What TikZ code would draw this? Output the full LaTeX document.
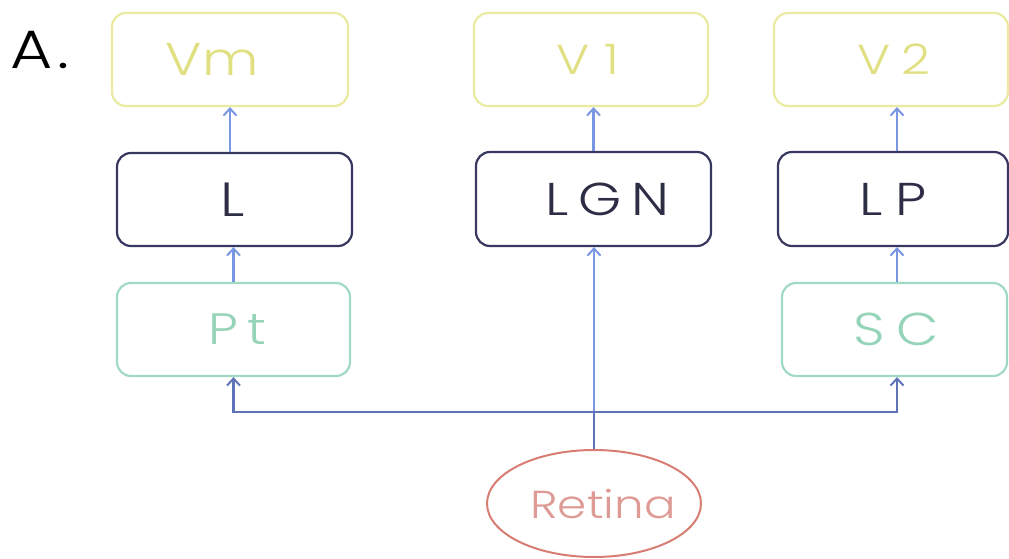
\documentclass[tikz,border=0pt]{standalone}
\usepackage{fontspec}
\setmainfont{Poppins Light}[FakeStretch=1.2]
\usetikzlibrary{arrows.meta,shapes.geometric}
\definecolor{ybox}{RGB}{234,234,160}
\definecolor{ytext}{RGB}{224,224,130}
\definecolor{nbox}{RGB}{55,55,95}
\definecolor{ntext}{RGB}{45,45,70}
\definecolor{gbox}{RGB}{160,218,195}
\definecolor{gtext}{RGB}{150,212,185}
\definecolor{rbox}{RGB}{215,125,115}
\definecolor{rtext}{RGB}{222,155,150}
\definecolor{arrc}{RGB}{120,150,225}
\definecolor{linec}{RGB}{95,115,185}
\newcommand{\lbl}[4]{\makebox[0pt]{\hspace*{#3pt}{\fontsize{#1}{#1}\selectfont\addfontfeatures{LetterSpace=#2}#4}}}
\tikzset{
  area/.style={draw, rounded corners=14pt, line width=2.2pt, inner sep=0pt},
  ybx/.style={area, draw=ybox, text=ytext},
  nbx/.style={area, draw=nbox, text=ntext},
  gbx/.style={area, draw=gbox, text=gtext},
  arr/.style={draw=arrc, line width=2.4pt, -{Straight Barb[length=7pt,width=13pt,line width=2pt]}},
  bus/.style={draw=linec, line width=2.4pt, -{Straight Barb[length=7pt,width=13pt,line width=2pt]}},
}
\begin{document}
\begin{tikzpicture}[x=1pt,y=-1pt]
\useasboundingbox (0,0) rectangle (1009,559);
\node[anchor=west, text=black, inner sep=0pt] (lab) at (10,50) {\fontsize{54}{54}\selectfont\addfontfeatures{LetterSpace=10}A.};
\node[ybx, minimum width=236pt, minimum height=93pt] (Vm) at (230,59.5) {\lbl{46}{2}{-36}{Vm}};
\node[nbx, minimum width=235pt, minimum height=93pt] (L) at (234.5,199.5) {\lbl{48}{0}{-4}{L}};
\node[gbx, minimum width=233pt, minimum height=93pt] (Pt) at (233.5,329.5) {\lbl{44}{20}{8}{Pt}};
\node[ybx, minimum width=234pt, minimum height=93pt] (V1) at (591,59.5) {\lbl{42}{36}{-6}{V1}};
\node[nbx, minimum width=235pt, minimum height=94pt] (LGN) at (593.5,199) {\lbl{46}{22}{28}{LGN}};
\node[ybx, minimum width=234pt, minimum height=93pt] (V2) at (891,59.5) {\lbl{42}{25}{6}{V2}};
\node[nbx, minimum width=230pt, minimum height=94pt] (LP) at (893,199) {\lbl{46}{26}{0}{LP}};
\node[gbx, minimum width=225pt, minimum height=93pt] (SC) at (894.5,329.5) {\lbl{46}{24}{4}{SC}};
\node[ellipse, draw=rbox, line width=2pt, text=rtext, inner sep=0pt, minimum width=214pt, minimum height=107pt] (Retina) at (594,503.5) {\lbl{39}{0}{18}{Retina}};
\coordinate (hub) at (594,412);
\coordinate (rx) at (897,0);
\draw[arr] (Vm.south |- L.north) -- (Vm.south);
\draw[arr] (Pt.north) -- (Pt.north |- L.south);
\draw[arr] (LGN.north) -- (LGN.north |- V1.south);
\draw[arr] (LP.north -| rx) -- (V2.south -| rx);
\draw[arr] (SC.north -| rx) -- (LP.south -| rx);
\draw[arr] (Retina.north) -- (LGN.south -| Retina.north);
\draw[bus] (Retina.north) -- (hub) -| (Pt.south);
\draw[bus] (hub) -| (SC.south -| rx);
\end{tikzpicture}
\end{document}
